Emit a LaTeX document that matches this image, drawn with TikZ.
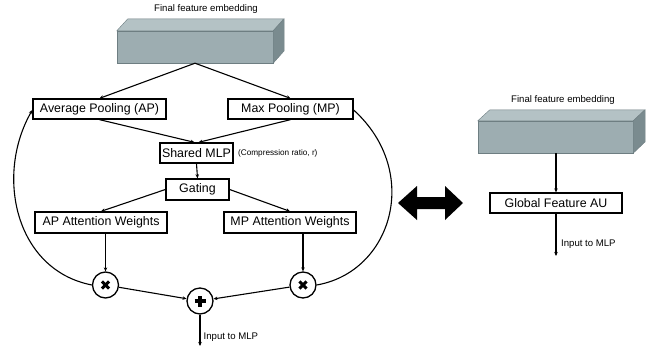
\documentclass[tikz,border=0pt]{standalone}
\usepackage{fontspec}
\setmainfont{Liberation Sans}
\usetikzlibrary{arrows.meta}

\definecolor{embfront}{RGB}{157,173,177}
\definecolor{embtop}{RGB}{180,194,197}
\definecolor{embside}{RGB}{122,139,143}
\definecolor{embline}{RGB}{110,126,130}

\tikzset{
  box/.style={draw, line width=1.3pt, inner sep=0pt, minimum height=20pt,
    font=\fontsize{12.4}{14}\selectfont},
  emb/.style={fill=embfront, draw=embline, line width=0.4pt, inner sep=0pt},
  small/.style={font=\fontsize{9.6}{11}\selectfont, inner sep=0pt},
  op/.style={circle, draw, line width=1.3pt, minimum size=26pt, inner sep=0pt},
  mulop/.style={op, path picture={
    \draw[line width=3pt] ([shift={(-3.6,-3.6)}]path picture bounding box.center) -- ([shift={(3.6,3.6)}]path picture bounding box.center);
    \draw[line width=3pt] ([shift={(-3.6,3.6)}]path picture bounding box.center) -- ([shift={(3.6,-3.6)}]path picture bounding box.center);}},
  addop/.style={op, path picture={
    \draw[line width=3.6pt] ([xshift=-5.5pt]path picture bounding box.center) -- ([xshift=5.5pt]path picture bounding box.center);
    \draw[line width=3.6pt] ([yshift=-5.5pt]path picture bounding box.center) -- ([yshift=5.5pt]path picture bounding box.center);}},
  arr/.style={line width=1.1pt, -{Stealth[length=4pt,width=3.5pt]}},
  ln/.style={line width=1.1pt}
}

\begin{document}
\begin{tikzpicture}[x=1pt, y=-1pt]
\useasboundingbox (0,0) rectangle (665,349);

% left: attention module
\node[small] (title1) at (206,9) {Final feature embedding}; % title
\node[emb, minimum width=156pt, minimum height=32pt] (emb1) at (195,47) {}; % front
\filldraw[fill=embtop, draw=embline, line width=0.4pt] (emb1.north west) -- ++(11,-12) -- ++(156,0) -- (emb1.north east) -- cycle; % top
\filldraw[fill=embside, draw=embline, line width=0.4pt] (emb1.north east) -- ++(11,-12) -- ++(0,32) -- (emb1.south east) -- cycle; % side

\node[box, minimum width=133pt] (ap) at (99.5,109) {Average Pooling (AP)};
\node[box, minimum width=125pt] (mp) at (290.5,109) {Max Pooling (MP)};
\node[box, minimum width=73pt] (mlp) at (196.5,153) {Shared MLP};
\node[small, font=\fontsize{8.2}{10}\selectfont, anchor=west] (ratio) at (238,153) {(Compression ratio, r)};
\node[box, minimum width=63pt, minimum height=21pt] (gate) at (197.5,189.5) {Gating};
\node[box, minimum width=132pt, minimum height=21pt] (apw) at (101,222.5) {AP Attention Weights};
\node[box, minimum width=132pt, minimum height=21pt] (mpw) at (290,222.5) {MP Attention Weights};
\node[mulop] (lmul) at (105.5,285) {};
\node[mulop] (rmul) at (303,285) {};
\node[addop] (add) at (200,301) {};
\coordinate (out1) at (200,346);
\node[small, anchor=west] (lab1) at (203.5,337) {Input to MLP};

\draw[arr] (emb1.south) -- (ap.north); % avg
\draw[arr] (emb1.south) -- (mp.north); % max
\draw[arr] (ap.south) -- ([xshift=-2pt]mlp.north);
\draw[arr] (mp.south) -- ([xshift=2pt]mlp.north);
\draw[arr] (mlp.south) -- (gate.north);
\draw[arr] (gate.west) -- (apw.north);
\draw[arr] (gate.east) -- (mpw.north);
\draw[arr] (apw.south -| lmul) -- (lmul.north);
\draw[arr] (mpw.south -| rmul) -- (rmul.north);
\draw[arr] (lmul) -- (add);
\draw[arr] (rmul) -- (add);
\draw[arr] (add.south) -- (out1);
\draw[ln, -{Stealth[length=4pt,width=3.5pt]}] (lmul.west) .. controls (15,270) and (-5,175) .. ([yshift=-1pt]ap.west); % skip AP
\draw[ln] (rmul.east) .. controls (392,272) and (422,172) .. ([yshift=-1pt]mp.east); % skip MP

% middle: double arrow
\fill (398,203) -- (417,186) -- (417,197) -- (445,197) -- (445,186) -- (463,203)
  -- (445,220) -- (445,209) -- (417,209) -- (417,220) -- cycle;

% right: global feature
\node[small] (title2) at (563,100) {Final feature embedding};
\node[emb, minimum width=155pt, minimum height=32pt] (emb2) at (555.5,137) {}; % front
\filldraw[fill=embtop, draw=embline, line width=0.4pt] (emb2.north west) -- ++(12,-11) -- ++(155,0) -- (emb2.north east) -- cycle; % top
\filldraw[fill=embside, draw=embline, line width=0.4pt] (emb2.north east) -- ++(12,-11) -- ++(0,32) -- (emb2.south east) -- cycle; % side
\node[box, minimum width=132pt] (glob) at (556,203) {Global Feature AU};
\coordinate (out2) at (556,256);
\node[small, anchor=west] (lab2) at (561,244) {Input to MLP};

\draw[arr] (emb2.south -| glob) -- (glob.north);
\draw[arr] (glob.south) -- (out2);

\end{tikzpicture}
\end{document}
